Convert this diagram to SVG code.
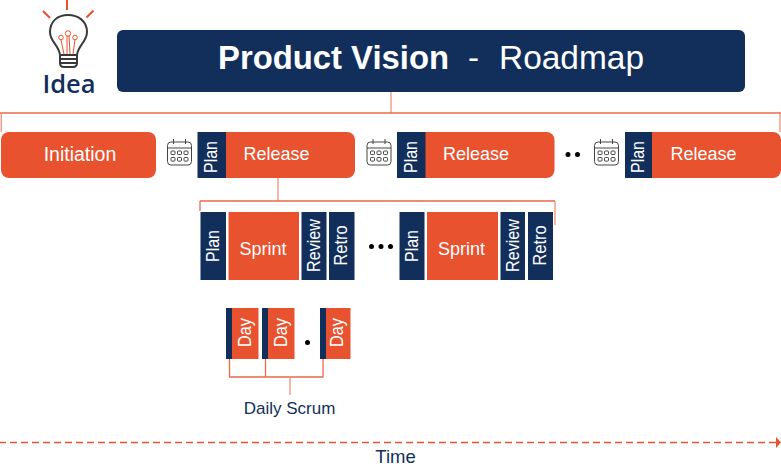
<svg xmlns="http://www.w3.org/2000/svg" width="781" height="466" viewBox="0 0 781 466">
<style>
text{font-family:"Liberation Sans",Arial,sans-serif;fill:#fff}
.navy{fill:#122f5c}.org{fill:#e9522e}
.l{font-size:18px;text-anchor:middle}
.v{font-size:18px;text-anchor:middle}
.d{font-size:18px;text-anchor:middle}
.con{fill:none;stroke:#ea6a4c;stroke-width:1.300}
.lite{fill:none;stroke:#f0937c;stroke-width:1.300}
.cal{fill:none;stroke:#444;stroke-width:1}
.dot{fill:#000}
</style>
<defs>
<g id="cal" class="cal">
<rect x="0.500" y="3" width="24" height="23" rx="3.500"/>
<path d="M0.500 9H24.500M6.500 0V5M18.500 0V5"/>
<rect x="4" y="12" width="4" height="3.600" rx=".8"/><rect x="10.500" y="12" width="4" height="3.600" rx=".8"/><rect x="17" y="12" width="4" height="3.600" rx=".8"/>
<rect x="4" y="18.500" width="4" height="3.600" rx=".8"/><rect x="10.500" y="18.500" width="4" height="3.600" rx=".8"/><rect x="17" y="18.500" width="4" height="3.600" rx=".8"/>
</g>
<path id="rel" d="M0 0H121a8 8 0 0 1 8 8V38a8 8 0 0 1-8 8H0Z"/>
</defs>

<g id="connectors">
<path class="lite" d="M391 92V113M1.300 113V132M780 113V132"/>
<path class="con" d="M0 113H781"/>
<path class="lite" d="M278 178V201M555 201V225"/>
<path class="con" d="M200 201H555M200 201V211"/>
<path class="con" d="M229.500 359V377M265.500 359V377M323 359V377M229 377H323.500"/>
<path class="lite" d="M290 377V395"/>
<path fill="none" stroke="#e9522e" stroke-width="1.500" stroke-dasharray="7 4" stroke-dashoffset="1" d="M0 442.500H776"/>
<path class="org" d="M776 437L781 442.500L776 448Z"/>
</g>

<g id="idea">
<path fill="none" stroke="#e9522e" stroke-width="2" d="M67 0V10M43 11L50 18M93.500 10.500L86.500 17.500"/>
<path fill="none" stroke="#3a3a3a" stroke-width="2" d="M60 55C59 45 50 42 50 32C50 21 58 15 68 15C78 15 87 21 87 32C87 42 78 45 77 55ZM60 55V63Q60 67 64 67H73Q77 67 77 63V55M60 59H77M60 63H77"/>
<g fill="none" stroke="#e9522e" stroke-width="1">
<path d="M64 54L61 40M73 54L75 40M67 54L67 36M70 54L69 36"/>
<circle cx="68" cy="33.500" r="2.700"/><circle cx="61" cy="37.500" r="2.300"/><circle cx="75" cy="37.500" r="2.300"/>
</g>
<text x="69" y="93" text-anchor="middle" style="font-family:'Open Sans',sans-serif;font-size:25.500px;font-weight:600;fill:#122f5c">Idea</text>
</g>

<g id="title">
<rect class="navy" x="117" y="30" width="628" height="62" rx="6"/>
<text x="218" y="69" font-size="33" font-weight="700" textLength="231" lengthAdjust="spacingAndGlyphs">Product Vision</text>
<text x="468" y="69" font-size="33">-</text>
<text x="499" y="69" font-size="33" textLength="145" lengthAdjust="spacingAndGlyphs">Roadmap</text>
</g>

<g id="initiation">
<rect class="org" x="1" y="132" width="155" height="46" rx="8"/>
<text class="l" x="80" y="160.500" style="font-size:19.500px">Initiation</text>
</g>

<g id="release1">
<use href="#cal" x="167" y="139"/>
<rect class="navy" x="197.500" y="132" width="29" height="46"/>
<use href="#rel" class="org" x="226" y="132"/>
<text class="v" transform="translate(217 157) rotate(-90)" textLength="32" lengthAdjust="spacingAndGlyphs">Plan</text>
<text class="l" x="276.500" y="160">Release</text>
</g>
<g id="release2">
<use href="#cal" x="366.500" y="139"/>
<rect class="navy" x="397" y="132" width="29" height="46"/>
<use href="#rel" class="org" x="425.500" y="132"/>
<text class="v" transform="translate(416.500 157) rotate(-90)" textLength="32" lengthAdjust="spacingAndGlyphs">Plan</text>
<text class="l" x="476" y="160">Release</text>
</g>
<g id="release3">
<use href="#cal" x="594" y="139"/>
<rect class="navy" x="625" y="132" width="29" height="46"/>
<use href="#rel" class="org" x="652" y="132"/>
<text class="v" transform="translate(644 157) rotate(-90)" textLength="32" lengthAdjust="spacingAndGlyphs">Plan</text>
<text class="l" x="703.500" y="160">Release</text>
</g>
<g id="dots1"><circle class="dot" cx="568" cy="154.500" r="2.500"/><circle class="dot" cx="577.500" cy="154.500" r="2.500"/></g>

<g id="sprint1">
<rect class="navy" x="200.500" y="212" width="25.500" height="68"/>
<rect class="org" x="228.500" y="212" width="70.500" height="68"/>
<rect class="navy" x="301.500" y="212" width="25" height="68"/>
<rect class="navy" x="329" y="212" width="25.500" height="68"/>
<text class="v" transform="translate(219 246) rotate(-90)" textLength="32" lengthAdjust="spacingAndGlyphs">Plan</text>
<text class="l" x="263" y="255">Sprint</text>
<text class="v" transform="translate(319.500 245.500) rotate(-90)" textLength="53" lengthAdjust="spacingAndGlyphs">Review</text>
<text class="v" transform="translate(347 245.500) rotate(-90)" textLength="40" lengthAdjust="spacingAndGlyphs">Retro</text>
</g>
<g id="dots2"><circle class="dot" cx="371.500" cy="246.500" r="2.500"/><circle class="dot" cx="381" cy="246.500" r="2.500"/><circle class="dot" cx="390.500" cy="246.500" r="2.500"/></g>
<g id="sprint2">
<rect class="navy" x="399.500" y="212" width="25" height="68"/>
<rect class="org" x="427" y="212" width="71" height="68"/>
<rect class="navy" x="500.500" y="212" width="24.500" height="68"/>
<rect class="navy" x="528" y="212" width="25" height="68"/>
<text class="v" transform="translate(418 246) rotate(-90)" textLength="32" lengthAdjust="spacingAndGlyphs">Plan</text>
<text class="l" x="461.500" y="255">Sprint</text>
<text class="v" transform="translate(518.500 245.500) rotate(-90)" textLength="53" lengthAdjust="spacingAndGlyphs">Review</text>
<text class="v" transform="translate(546 245.500) rotate(-90)" textLength="40" lengthAdjust="spacingAndGlyphs">Retro</text>
</g>

<g id="day1">
<rect class="navy" x="226" y="308" width="6" height="51"/><rect class="org" x="232" y="308" width="26.500" height="51"/>
<text class="d" transform="translate(250.500 332.500) rotate(-90)" textLength="29" lengthAdjust="spacingAndGlyphs">Day</text>
</g>
<g id="day2">
<rect class="navy" x="262" y="308" width="6" height="51"/><rect class="org" x="268" y="308" width="26.500" height="51"/>
<text class="d" transform="translate(286.500 332.500) rotate(-90)" textLength="29" lengthAdjust="spacingAndGlyphs">Day</text>
</g>
<circle class="dot" cx="307.500" cy="342.500" r="2.500"/>
<g id="day3">
<rect class="navy" x="320" y="308" width="6" height="51"/><rect class="org" x="326" y="308" width="24.500" height="51"/>
<text class="d" transform="translate(342.500 332.500) rotate(-90)" textLength="29" lengthAdjust="spacingAndGlyphs">Day</text>
</g>

<text x="289.500" y="413.500" text-anchor="middle" font-size="17" style="fill:#122f5c">Daily Scrum</text>
<text x="395.500" y="463" text-anchor="middle" font-size="18.500" style="fill:#122f5c">Time</text>
</svg>
